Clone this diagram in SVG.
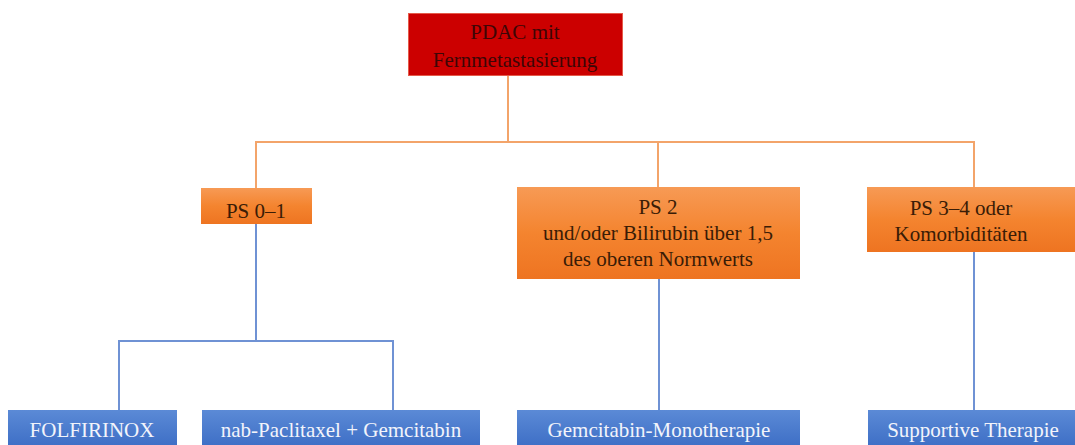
<svg xmlns="http://www.w3.org/2000/svg" width="1075" height="445" viewBox="0 0 1075 445">
<defs>
<linearGradient id="og" x1="0" y1="0" x2="0" y2="1">
<stop offset="0" stop-color="#f79a55"/>
<stop offset="0.5" stop-color="#f4842f"/>
<stop offset="1" stop-color="#ee7421"/>
</linearGradient>
<linearGradient id="bg" x1="0" y1="0" x2="0" y2="1">
<stop offset="0" stop-color="#5b8ad6"/>
<stop offset="1" stop-color="#3b6cc4"/>
</linearGradient>
</defs>
<style>
text{font-family:"Liberation Serif","Times New Roman",serif;font-size:21px;text-anchor:middle}
.red{fill:#cc0000;stroke:#e55a4a;stroke-width:1}
.org{fill:url(#og)}
.blu{fill:url(#bg)}
.tr{fill:#3d0606}
.to{fill:#3a1c06}
.tb{fill:#f2f4fb}
.co{fill:none;stroke:#f3a46a;stroke-width:2}
.cb{fill:none;stroke:#6f92d4;stroke-width:2}
</style>
<rect width="1075" height="445" fill="#ffffff"/>
<g id="connectors">
<path class="co" d="M508 75V142M256 188V142H974V187M658 142V187"/>
<path class="cb" d="M256 224V341M119 410V341H393V410M659 279V410M974 252V410"/>
</g>
<g id="n-pdac"><rect class="red" x="408.5" y="13.5" width="214" height="62"/><text class="tr" x="515" y="39">PDAC mit</text><text class="tr" x="515" y="67">Fernmetastasierung</text></g>
<g id="n-ps01"><rect class="org" x="201" y="188" width="111" height="36"/><text class="to" x="256" y="218">PS 0–1</text></g>
<g id="n-ps2"><rect class="org" x="517" y="187" width="283" height="92"/><text class="to" x="658" y="214">PS 2</text><text class="to" x="658" y="240">und/oder Bilirubin über 1,5</text><text class="to" x="658" y="266">des oberen Normwerts</text></g>
<g id="n-ps34"><rect class="org" x="867" y="187" width="210" height="65"/><text class="to" x="961" y="215">PS 3–4 oder</text><text class="to" x="961" y="241">Komorbiditäten</text></g>
<g id="n-folf"><rect class="blu" x="8" y="410" width="169" height="40"/><text class="tb" x="92" y="437">FOLFIRINOX</text></g>
<g id="n-nab"><rect class="blu" x="202" y="410" width="278" height="40"/><text class="tb" x="341" y="437">nab-Paclitaxel + Gemcitabin</text></g>
<g id="n-gem"><rect class="blu" x="517" y="410" width="283" height="40"/><text class="tb" x="659" y="437">Gemcitabin-Monotherapie</text></g>
<g id="n-supp"><rect class="blu" x="868" y="410" width="210" height="40"/><text class="tb" x="973" y="437">Supportive Therapie</text></g>
</svg>
